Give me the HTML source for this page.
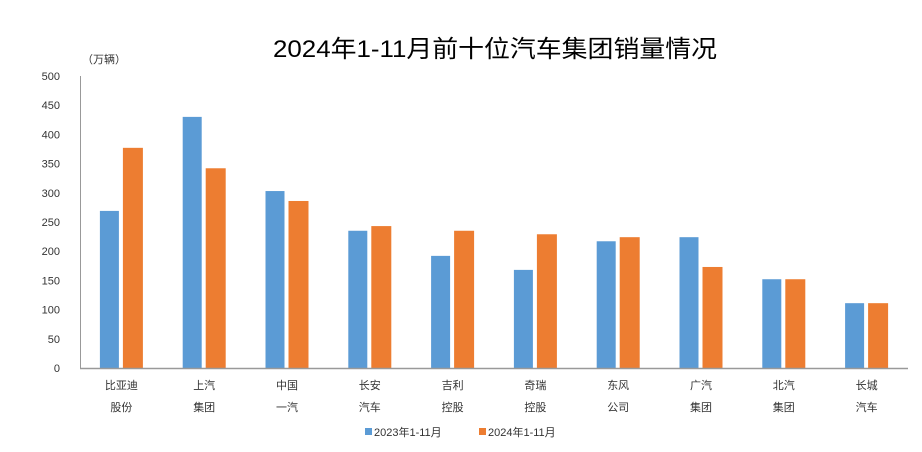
<!DOCTYPE html>
<html><head><meta charset="utf-8"><style>
body{margin:0;background:#fff;}
svg{display:block;font-family:"Liberation Sans","Noto Sans CJK SC",sans-serif;}
</style></head><body>
<svg id="chart" width="922" height="452">
<text x="495" y="57" text-anchor="middle" font-size="24" textLength="444" lengthAdjust="spacingAndGlyphs" fill="#000">2024年1-11月前十位汽车集团销量情况</text>
<text x="82" y="63" font-size="11" fill="#333">（万辆）</text>
<g id="ticks"></g><g id="bars"></g><g id="xlabels"></g>
<line x1="80" y1="368.5" x2="908" y2="368.5" stroke="#999" stroke-width="1.5"/>
<line x1="80.5" y1="76" x2="80.5" y2="368" stroke="#999" stroke-width="1"/>
<g>
<rect x="365" y="428" width="7" height="7" fill="#5b9bd5"/>
<text x="374" y="436" font-size="11" fill="#333">2023年1-11月</text>
<rect x="479" y="428" width="7" height="7" fill="#ed7d31"/>
<text x="488" y="436" font-size="11" fill="#333">2024年1-11月</text>
</g>
</svg>
<script>
const categoriesLine1=["比亚迪","上汽","中国","长安","吉利","奇瑞","东风","广汽","北汽","长城"];
const categoriesLine2=["股份","集团","一汽","汽车","控股","控股","公司","集团","集团","汽车"];
const sales2023=[269,430,303,235,192,168,217,224,152,111];
const sales2024=[377,342,286,243,235,229,224,173,152,111];
const yTicks=[0,50,100,150,200,250,300,350,400,450,500];
const NS="http://www.w3.org/2000/svg";
const x0=80,x1=908,yBase=368,yTop=76,yMax=500;
const y=v=>yBase-(v/yMax)*(yBase-yTop);
const bw=(x1-x0)/categoriesLine1.length;
const xc=i=>x0+bw*(i+0.5);
function mk(tag,attrs,parent){const e=document.createElementNS(NS,tag);for(const k in attrs)e.setAttribute(k,attrs[k]);parent.appendChild(e);return e;}
const tg=document.getElementById('ticks'),bg=document.getElementById('bars'),lg=document.getElementById('xlabels');
yTicks.forEach(t=>{const e=mk('text',{x:60,y:y(t)+4,'text-anchor':'end','font-size':11,fill:'#333'},tg);e.textContent=t;

});
categoriesLine1.forEach((c,i)=>{
 const b1=mk('rect',{x:xc(i)-21.5,y:y(sales2023[i]),width:19,height:yBase-y(sales2023[i]),fill:'#5b9bd5'},bg);
 
 
 const b2=mk('rect',{x:xc(i)+1.5,y:y(sales2024[i]),width:20,height:yBase-y(sales2024[i]),fill:'#ed7d31'},bg);
 
 
 const t=mk('text',{x:xc(i),y:389,'text-anchor':'middle','font-size':11,fill:'#333'},lg);
 t.textContent=c;
 
 
 const t2=mk('text',{x:xc(i),y:411,'text-anchor':'middle','font-size':11,fill:'#333'},lg);
 t2.textContent=categoriesLine2[i];
 
 
});
</script>
</body></html>
